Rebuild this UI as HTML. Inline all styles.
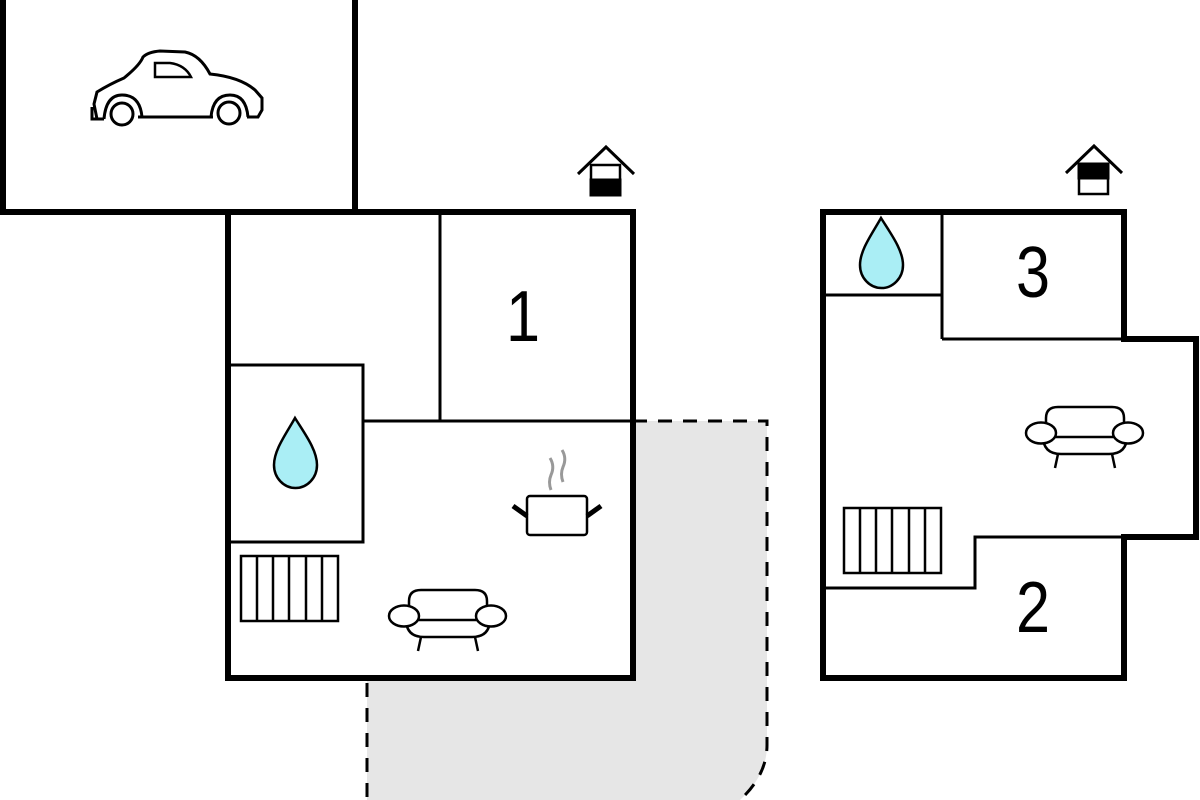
<!DOCTYPE html>
<html><head><meta charset="utf-8"><style>html,body{margin:0;padding:0;background:#fff;}svg{display:block}</style></head>
<body>
<svg width="1200" height="800" viewBox="0 0 1200 800" xmlns="http://www.w3.org/2000/svg">
<defs>
<g id="sofa" fill="#fff" stroke="#000" stroke-width="2.5">
<path d="M20,35 L20,12 Q20,1 32,1 L86,1 Q98,1 98,12 L98,35" />
<path d="M17,30 Q17,48 35,48 L83,48 Q101,48 101,30" />
<line x1="28" y1="31" x2="90" y2="31"/>
<ellipse cx="15" cy="27" rx="15" ry="10.5"/>
<ellipse cx="102" cy="27" rx="15" ry="10.5"/>
<line x1="32" y1="48" x2="29" y2="62"/>
<line x1="86" y1="48" x2="89" y2="62"/>
</g>
<g id="rad" fill="#fff" stroke="#000" stroke-width="2.5">
<rect x="0" y="0" width="97" height="65"/>
<line x1="16" y1="0" x2="16" y2="65"/><line x1="32" y1="0" x2="32" y2="65"/><line x1="48" y1="0" x2="48" y2="65"/><line x1="65" y1="0" x2="65" y2="65"/><line x1="81" y1="0" x2="81" y2="65"/>
</g>
<path id="drop" d="M21,0 C12,16 0,32 0,47 A21.5,23 0 0 0 43,47 C43,32 31,16 21,0Z" fill="#aaeef5" stroke="#000" stroke-width="2.5"/>
</defs>

<path d="M633,421 L767,421 L767,745 Q767,775 740,800 L367,800 L367,678 L633,678Z" fill="#e6e6e6"/>
<path d="M633,421 L767,421 L767,745 Q767,775 740,800" fill="none" stroke="#000" stroke-width="3" stroke-dasharray="14,11"/>
<line x1="367" y1="683" x2="367" y2="800" stroke="#000" stroke-width="3" stroke-dasharray="14,11"/>

<rect x="228" y="212" width="405" height="466" fill="#fff" stroke="#000" stroke-width="6"/>
<rect x="3" y="-10" width="352" height="222" fill="#fff" stroke="#000" stroke-width="6"/>
<line x1="440" y1="212" x2="440" y2="421" stroke="#000" stroke-width="3"/>
<line x1="363" y1="421" x2="633" y2="421" stroke="#000" stroke-width="3"/>
<rect x="228" y="365" width="135" height="177" fill="#fff" stroke="#000" stroke-width="3"/>
<line x1="228" y1="212" x2="228" y2="678" stroke="#000" stroke-width="6"/>
<use href="#drop" x="274" y="418"/>
<use href="#rad" x="241" y="556"/>
<use href="#sofa" x="389" y="589"/>
<g stroke="#000" fill="#fff">
<rect x="527" y="496" width="60" height="39" rx="3" stroke-width="2.5"/>
<line x1="513" y1="506" x2="527" y2="516" stroke-width="5"/>
<line x1="601" y1="506" x2="587" y2="516" stroke-width="5"/>
</g>
<path d="M551,490 Q548,482 551,475 Q555,466 550,458 M563,482 Q560,474 563,467 Q567,458 562,450" fill="none" stroke="#999" stroke-width="3"/>
<text transform="translate(523,341) scale(0.85,1)" font-family="Liberation Sans, sans-serif" font-size="72" text-anchor="middle">1</text>

<g fill="none" stroke="#000" stroke-width="3">
<path d="M97,119 L94,104 L97,92 Q110,84 124,78 Q140,65 143,57 Q148,52 160,51 L185,52 Q200,55 210,74 Q240,77 255,90 L262,98 L262,110 L258,117 L247,117 M213,117 L138,117 M104,119 L92,119 L92,107"/>
<path d="M104,119 Q106,95 122,95 Q140,95 142,117"/>
<path d="M211,117 Q213,95 230,95 Q246,95 248,117"/>
<circle cx="122" cy="114" r="11"/>
<circle cx="229" cy="113" r="11"/>
<path d="M155,63 L155,77 L191,77 Q185,65 170,63Z" stroke-width="2.5"/>
</g>

<g stroke="#000" stroke-width="3" fill="none">
<path d="M578,174 L606,147 L634,174"/>
<rect x="591" y="165" width="29" height="30" fill="#fff" stroke-width="2.5"/>
<rect x="591" y="180" width="29" height="15" fill="#000"/>
<path d="M1066,173 L1094,146 L1122,173"/>
<rect x="1079" y="164" width="29" height="30" fill="#fff" stroke-width="2.5"/>
<rect x="1079" y="164" width="29" height="14" fill="#000"/>
</g>

<path d="M823,212 L1124,212 L1124,339 L1196,339 L1196,537 L1124,537 L1124,678 L823,678Z" fill="#fff" stroke="#000" stroke-width="6"/>
<g stroke="#000" stroke-width="3" fill="none">
<line x1="942" y1="212" x2="942" y2="339"/>
<line x1="823" y1="295" x2="942" y2="295"/>
<line x1="942" y1="339" x2="1124" y2="339"/>
<path d="M823,588 L975,588 L975,537 L1124,537"/>
</g>
<use href="#drop" x="860" y="218"/>
<use href="#rad" x="844" y="508"/>
<use href="#sofa" x="1026" y="406"/>
<text transform="translate(1033,297) scale(0.85,1)" font-family="Liberation Sans, sans-serif" font-size="72" text-anchor="middle">3</text>
<text transform="translate(1033,632) scale(0.85,1)" font-family="Liberation Sans, sans-serif" font-size="72" text-anchor="middle">2</text>
</svg>
</body></html>
